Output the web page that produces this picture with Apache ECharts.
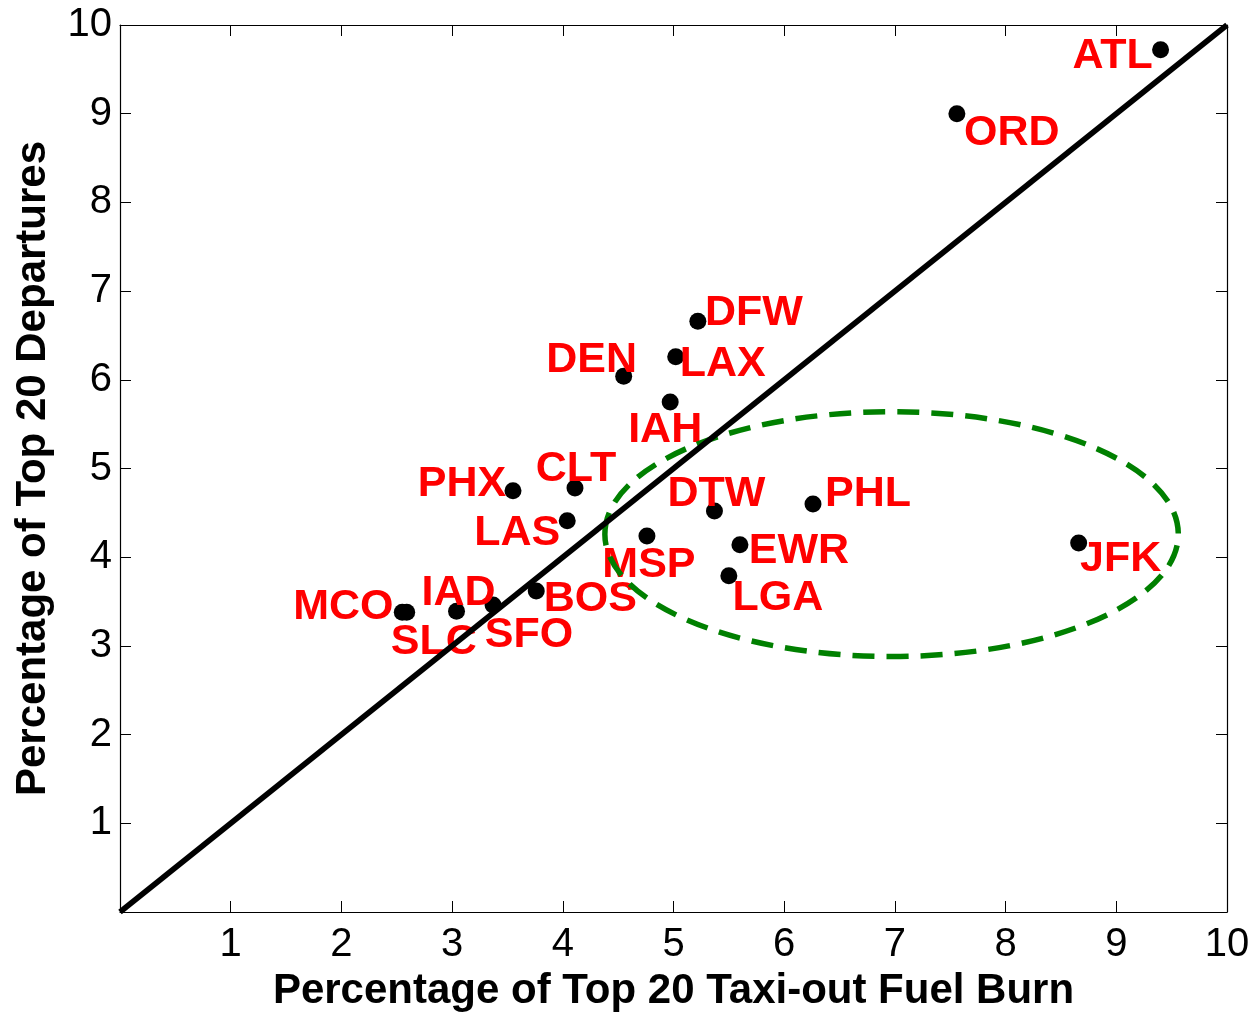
<!DOCTYPE html>
<html>
<head>
<meta charset="utf-8">
<script src="https://cdn.jsdelivr.net/npm/echarts@6/dist/echarts.min.js"></script>
<style>
html,body{margin:0;padding:0;background:#fff;}
#chart{width:1251px;height:1012px;}
</style>
</head>
<body>
<div id="chart"></div>
<script>
// ---- data ----
const airports = ['ATL','ORD','DFW','LAX','DEN','IAH','CLT','PHX','LAS','DTW','PHL','MSP','EWR','LGA','JFK','BOS','SFO','IAD','MCO','SLC'];
const fuelBurnPct = [9.40,7.56,5.22,5.02,4.55,4.97,4.11,3.55,4.04,5.37,6.26,4.76,5.60,5.50,8.66,3.76,3.37,3.04,2.55,2.59];
const departuresPct = [9.72,9.00,6.66,6.26,6.04,5.75,4.78,4.75,4.41,4.52,4.60,4.24,4.14,3.79,4.16,3.62,3.46,3.39,3.38,3.38];
const refLineX = [0, 10];
const refLineY = [0, 10];
// highlighted region: centre x, centre y, radius x, radius y (data units)
const ellipseRegion = [6.97, 4.26, 2.59, 1.38];

// ---- label layout (pixel offsets of label centre from marker) ----
const labelOffsets = {
  ATL:[-48,6], ORD:[55,19], DFW:[56,-8], LAX:[47,7], DEN:[-32,-16], IAH:[-5,28],
  CLT:[1,-19], PHX:[-51,-7], LAS:[-50,12], DTW:[2,-17], PHL:[55,-10], MSP:[2,29],
  EWR:[59,6], LGA:[49,22], JFK:[42,16], BOS:[54,8], SFO:[36,30], IAD:[2,-18],
  MCO:[-59,-5], SLC:[27,30]
};

const FONT = '"Liberation Sans", Arial, Helvetica, sans-serif';

const scatterData = airports.map((n, i) => ({
  name: n,
  value: [fuelBurnPct[i], departuresPct[i]],
  label: { offset: labelOffsets[n] }
}));

const chart = echarts.init(document.getElementById('chart'), null, {renderer: 'canvas'});

const tickFmt = v => (v === 0 ? '' : String(v));
const axisCommon = {
  type: 'value', min: 0, max: 10, interval: 1,
  splitLine: { show: false },
  axisLine: { show: true, onZero: false, lineStyle: { color: '#000', width: 1.2 } },
  axisTick: { show: true, inside: true, length: 11, lineStyle: { color: '#000', width: 1 } }
};

chart.setOption({
  animation: false,
  backgroundColor: '#fff',
  grid: { left: 120, right: 24, top: 25, bottom: 100, containLabel: false, outerBoundsMode: 'none' },
  xAxis: [
    Object.assign({}, axisCommon, {
      position: 'bottom',
      name: 'Percentage of Top 20 Taxi-out Fuel Burn',
      nameLocation: 'middle', nameGap: 58,
      nameTextStyle: { fontFamily: FONT, fontWeight: 'bold', fontSize: 42, color: '#000' },
      axisLabel: { show: true, formatter: tickFmt, margin: 13, fontFamily: FONT, fontSize: 40, color: '#000' }
    }),
    Object.assign({}, axisCommon, { position: 'top', axisLabel: { show: false } })
  ],
  yAxis: [
    Object.assign({}, axisCommon, {
      position: 'left',
      name: 'Percentage of Top 20 Departures',
      nameLocation: 'middle', nameGap: 66,
      nameTextStyle: { fontFamily: FONT, fontWeight: 'bold', fontSize: 42, color: '#000' },
      axisLabel: { show: true, formatter: tickFmt, margin: 8, fontFamily: FONT, fontSize: 40, color: '#000' }
    }),
    Object.assign({}, axisCommon, { position: 'right', axisLabel: { show: false } })
  ],
  series: [
    {
      type: 'scatter', name: 'airports', z: 2,
      xAxisIndex: 0, yAxisIndex: 0,
      symbol: 'circle', symbolSize: 17,
      itemStyle: { color: '#000', opacity: 1 },
      label: {
        show: true, position: 'inside', formatter: '{b}',
        align: 'center', verticalAlign: 'middle',
        fontFamily: FONT, fontWeight: 'bold', fontSize: 43, color: '#ff0000', opacity: 1
      },
      emphasis: { disabled: true },
      data: scatterData
    },
    {
      type: 'line', name: 'diagonal', z: 3,
      xAxisIndex: 0, yAxisIndex: 0,
      showSymbol: false, symbol: 'none',
      lineStyle: { color: '#000', width: 5.5 },
      data: refLineX.map((x, i) => [x, refLineY[i]])
    },
    {
      type: 'custom', name: 'region', z: 3,
      xAxisIndex: 0, yAxisIndex: 0,
      data: [ellipseRegion],
      renderItem: function (params, api) {
        const c = api.coord([api.value(0), api.value(1)]);
        const s = api.size([api.value(2), api.value(3)]);
        return {
          type: 'ellipse',
          shape: { cx: c[0], cy: c[1], rx: s[0], ry: s[1] },
          style: { fill: 'none', stroke: '#008000', lineWidth: 5.5, lineDash: [22, 12] }
        };
      }
    }
  ]
});
</script>
</body>
</html>
